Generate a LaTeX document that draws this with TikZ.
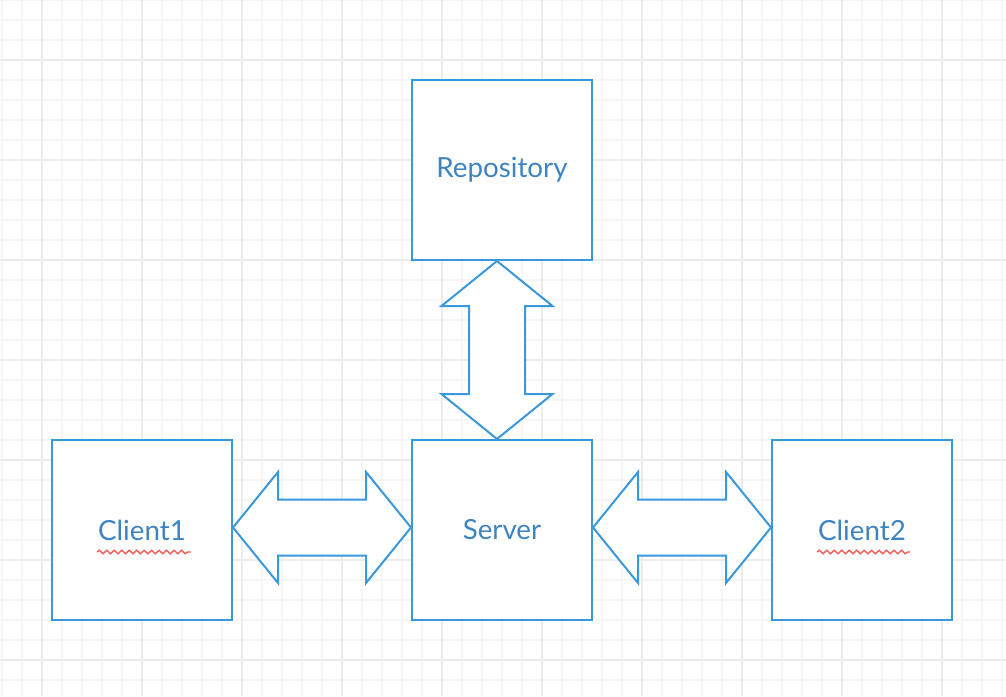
\documentclass[tikz,border=0pt]{standalone}
\usepackage{fontspec}
\setmainfont{Lato}
\usetikzlibrary{positioning,calc,decorations.pathmorphing}
\definecolor{chartBlue}{HTML}{3A98DB}
\definecolor{chartText}{HTML}{3F84C0}
\definecolor{gridMinor}{HTML}{F6F6F6}
\definecolor{gridMajor}{HTML}{ECECEC}
\definecolor{spellRed}{HTML}{F0615C}

\tikzset{
  unitbox/.style={draw=chartBlue, line width=1.5pt, fill=white,
    minimum size=135pt, inner sep=0pt, text=chartText,
    font=\fontsize{20.8}{25}\selectfont},
  fatarrow/.style={draw=chartBlue, line width=1.5pt, fill=white, line join=miter},
  squiggle/.style={draw=spellRed, line width=1.1pt, decorate,
    decoration={snake, amplitude=1.3pt, segment length=5.6pt}}
}

\begin{document}
\begin{tikzpicture}[x=0.75pt, y=-0.75pt]
  \useasboundingbox (0,0) rectangle (1006,696);
  % Grid paper
  \fill[white] (0,0) rectangle (1006,696);
  \foreach \gx in {2,22,...,1002}
    \draw[gridMinor, line width=0.9pt] (\gx,0) -- (\gx,696);
  \foreach \gy in {0,20,...,680}
    \draw[gridMinor, line width=0.9pt] (0,\gy) -- (1006,\gy);
  \foreach \gx in {42,142,...,942}
    \draw[gridMajor, line width=0.9pt] (\gx,0) -- (\gx,696);
  \foreach \gy in {60,160,...,660}
    \draw[gridMajor, line width=0.9pt] (0,\gy) -- (1006,\gy);

  % Boxes
  \node[unitbox] (repo) at (502,170) {Repository};
  \node[unitbox] (srv)  at (502,530) {Server};
  \node[unitbox] (cli1) at (142,530) {Client1};
  \node[unitbox] (cli2) at (862,530) {Client2};

  % Horizontal double arrows
  \foreach \from/\to in {cli1/srv, srv/cli2} {
    \coordinate (ta) at ($(\from.east)+(0,-2.5)$);
    \coordinate (tb) at ($(\to.west)+(0,-2.5)$);
    \draw[fatarrow] (ta) -- ++(45,-55.5) -- ++(0,27.5)
      -- ($(tb)+(-45,-28)$) -- ++(0,-27.5) -- (tb)
      -- ++(-45,55.5) -- ++(0,-27.5)
      -- ($(ta)+(45,28)$) -- ++(0,27.5) -- cycle;
  }

  % Vertical double arrow
  \coordinate (va) at ($(repo.south)+(-5,0)$);
  \coordinate (vb) at ($(srv.north)+(-5,0)$);
  \draw[fatarrow] (va) -- ++(55.5,45) -- ++(-27.5,0)
    -- ($(vb)+(28,-45)$) -- ++(27.5,0) -- (vb)
    -- ++(-55.5,-45) -- ++(27.5,0)
    -- ($(va)+(-28,45)$) -- ++(-27.5,0) -- cycle;

  % Spell-check underlines
  \draw[squiggle] ($(cli1)+(-45,22)$) -- ($(cli1)+(49,22)$);
  \draw[squiggle] ($(cli2)+(-45,22)$) -- ($(cli2)+(48,22)$);
\end{tikzpicture}
\end{document}
